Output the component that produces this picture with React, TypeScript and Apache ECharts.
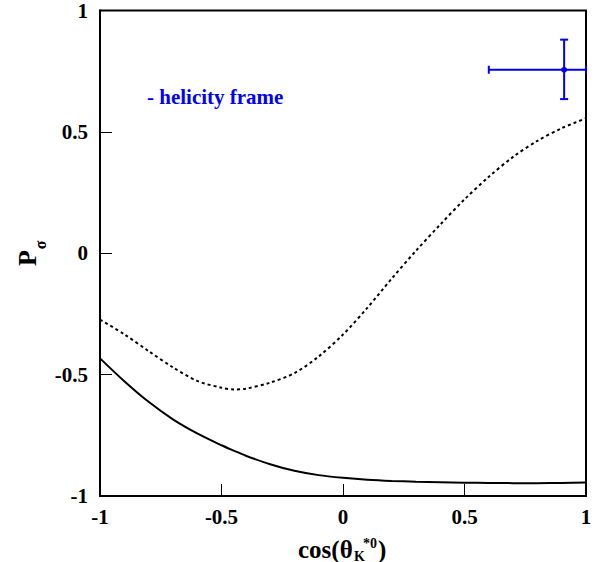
import React, { useEffect, useRef } from "react";
import * as echarts from "echarts";

// cos(theta_K*0) sample points
const cosTheta = [
  -1.0, -0.9, -0.8, -0.7, -0.6, -0.5, -0.45, -0.4, -0.3, -0.2, -0.1, 0.0, 0.1,
  0.2, 0.3, 0.4, 0.5, 0.6, 0.7, 0.8, 0.9, 1.0,
];
// Dotted curve
const dottedP = [
  -0.273, -0.334, -0.403, -0.47, -0.526, -0.554, -0.561, -0.558, -0.533,
  -0.494, -0.425, -0.335, -0.225, -0.105, 0.01, 0.118, 0.222, 0.315, 0.397,
  0.463, 0.515, 0.556,
];
// Solid curve
const solidP = [
  -0.433, -0.527, -0.612, -0.684, -0.742, -0.791, -0.813, -0.834, -0.869,
  -0.896, -0.914, -0.925, -0.933, -0.938, -0.941, -0.943, -0.945, -0.946,
  -0.947, -0.947, -0.946, -0.944,
];
// Measured point: [x, y, xLow, xHigh, yLow, yHigh]
const measurement = [[0.91, 0.756, 0.6, 1.0, 0.635, 0.88]];

const xTicks = [-1, -0.5, 0, 0.5, 1];
const yTicks = [-1, -0.5, 0, 0.5, 1];

const FONT = "Liberation Serif";
const BLUE = "#0000ee";

export default function App() {
  const ref = useRef<HTMLDivElement>(null);

  useEffect(() => {
    if (!ref.current) return;
    const chart = echarts.init(ref.current, undefined, { renderer: "svg" });
    const labelStyle = {
      color: "#000",
      fontFamily: FONT,
      fontWeight: "bold" as const,
      fontSize: 21,
    };
    const txt = (size: number) => ({
      fill: "#000",
      fontFamily: FONT,
      fontWeight: "bold" as const,
      fontSize: size,
    });
    chart.setOption({
      animation: false,
      backgroundColor: "#fff",
      grid: {
        left: 100,
        right: 10,
        top: 10,
        bottom: 66,
        show: true,
        borderColor: "#000",
        borderWidth: 2,
      },
      xAxis: {
        type: "value",
        min: xTicks[0],
        max: xTicks[xTicks.length - 1],
        interval: 0.5,
        axisLine: { onZero: false, lineStyle: { color: "#000", width: 2 } },
        axisTick: { inside: true, length: 12, lineStyle: { color: "#000", width: 1 } },
        splitLine: { show: false },
        axisLabel: { ...labelStyle, margin: 10 },
      },
      yAxis: {
        type: "value",
        min: yTicks[0],
        max: yTicks[yTicks.length - 1],
        interval: 0.5,
        axisLine: { onZero: false, lineStyle: { color: "#000", width: 2 } },
        axisTick: { inside: true, length: 12, lineStyle: { color: "#000", width: 1 } },
        splitLine: { show: false },
        axisLabel: { ...labelStyle, margin: 12 },
      },
      series: [
        {
          type: "line",
          data: cosTheta.map((x, i) => [x, dottedP[i]]),
          smooth: 0.3,
          showSymbol: false,
          lineStyle: { color: "#000", width: 2, type: [3, 3] },
        },
        {
          type: "line",
          data: cosTheta.map((x, i) => [x, solidP[i]]),
          smooth: 0.3,
          showSymbol: false,
          lineStyle: { color: "#000", width: 2 },
        },
        {
          type: "custom",
          clip: false,
          data: measurement,
          renderItem: (params: any, api: any) => {
            const x = api.value(0);
            const y = api.value(1);
            const c = api.coord([x, y]);
            const l = api.coord([api.value(2), y]);
            const r = api.coord([api.value(3), y]);
            const b = api.coord([x, api.value(4)]);
            const t = api.coord([x, api.value(5)]);
            const cap = 4;
            const st = { stroke: BLUE, lineWidth: 2 };
            return {
              type: "group",
              children: [
                { type: "line", shape: { x1: l[0], y1: l[1], x2: r[0], y2: r[1] }, style: st },
                { type: "line", shape: { x1: t[0], y1: t[1], x2: b[0], y2: b[1] }, style: st },
                { type: "line", shape: { x1: l[0], y1: l[1] - cap, x2: l[0], y2: l[1] + cap }, style: st },
                { type: "line", shape: { x1: r[0], y1: r[1] - cap, x2: r[0], y2: r[1] + cap }, style: st },
                { type: "line", shape: { x1: t[0] - cap, y1: t[1], x2: t[0] + cap, y2: t[1] }, style: st },
                { type: "line", shape: { x1: b[0] - cap, y1: b[1], x2: b[0] + cap, y2: b[1] }, style: st },
                { type: "circle", shape: { cx: c[0], cy: c[1], r: 3 }, style: { fill: BLUE } },
              ],
            };
          },
        },
      ],
      graphic: [
        {
          type: "text",
          x: 147,
          y: 97,
          style: {
            text: "- helicity frame",
            ...txt(21),
            fill: "#0000ff",
            align: "left",
            verticalAlign: "middle",
          },
        },
        // y-axis title: P with subscript sigma, rotated
        {
          type: "text",
          x: 27,
          y: 258,
          rotation: Math.PI / 2,
          style: { text: "P", ...txt(26), align: "center", verticalAlign: "middle" },
        },
        {
          type: "text",
          x: 40,
          y: 245,
          rotation: Math.PI / 2,
          style: { text: "σ", ...txt(16), align: "center", verticalAlign: "middle" },
        },
        // x-axis title: cos(θ_K^*0)
        {
          type: "text",
          x: 298,
          y: 549,
          style: { text: "cos(θ", ...txt(25), align: "left", verticalAlign: "middle" },
        },
        {
          type: "text",
          x: 354,
          y: 556,
          style: { text: "K", ...txt(14), align: "left", verticalAlign: "middle" },
        },
        {
          type: "text",
          x: 363,
          y: 543,
          style: { text: "*0", ...txt(14), align: "left", verticalAlign: "middle" },
        },
        {
          type: "text",
          x: 378,
          y: 549,
          style: { text: ")", ...txt(25), align: "left", verticalAlign: "middle" },
        },
      ],
    });
    return () => chart.dispose();
  }, []);

  return (
    <div
      ref={ref}
      style={{ position: "fixed", left: 0, top: 0, width: 596, height: 562, background: "#fff" }}
    />
  );
}
